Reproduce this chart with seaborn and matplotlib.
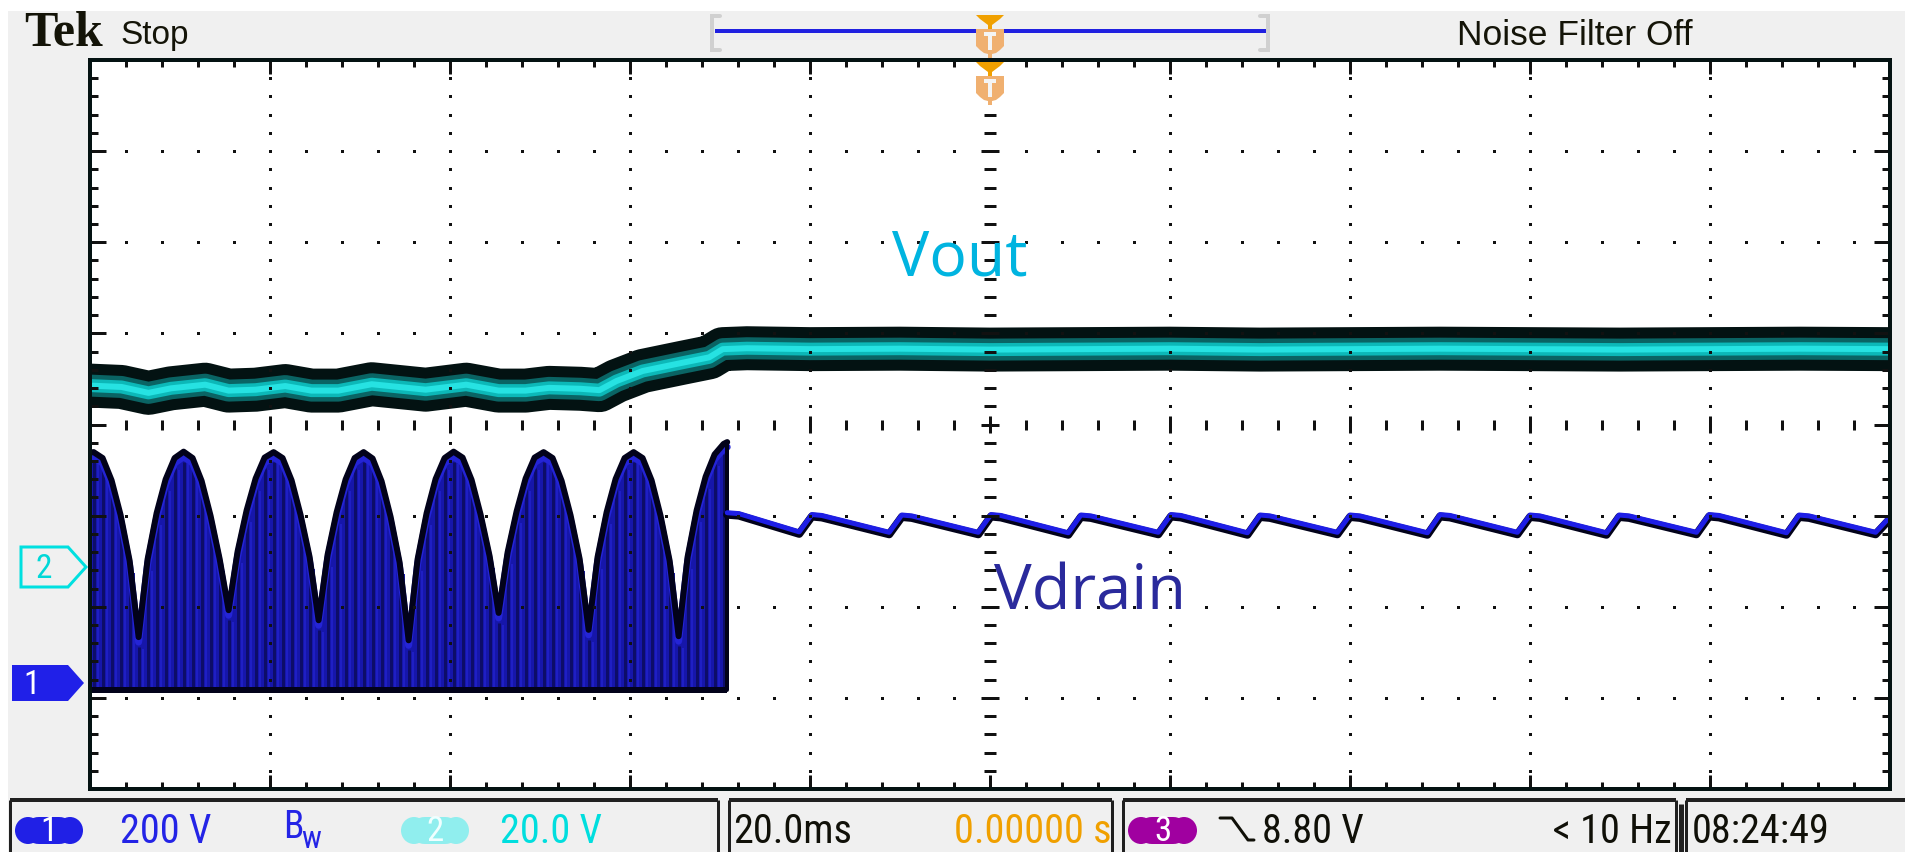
import numpy as np
import pandas as pd
import matplotlib
matplotlib.use("Agg")
import matplotlib.pyplot as plt
import matplotlib.patches as mpatches
import matplotlib.transforms as mtransforms
from matplotlib import font_manager
import seaborn as sns

# ---------------- acquisition settings ----------------
CH1_VOLTS_PER_DIV = 200.0     # Vdrain
CH2_VOLTS_PER_DIV = 20.0      # Vout
CH1_GROUND_DIV = -2.853       # ground marker positions (divisions from centre)
CH2_GROUND_DIV = -1.573
TIME_SPAN_MS = (-100.0, 100.0)

# ---------------- Vdrain: peak envelope while switching (ms, V) ----------------
vdrain_env_t = [
    -100.0, -99.6, -98.6, -97.6, -96.6, -95.6, -94.6,
    -93.6, -92.6, -91.6, -90.6, -89.6, -88.6, -87.6, -86.6, -85.6, -84.6,
    -83.6, -82.6, -81.6, -80.6, -79.6, -78.6, -77.6, -76.6, -75.6, -74.6,
    -73.6, -72.6, -71.6, -70.6, -69.6, -68.6, -67.6, -66.6, -65.6, -64.6,
    -63.6, -62.6, -61.6, -60.6, -59.6, -58.6, -57.6, -56.6, -55.6, -54.6,
    -53.6, -52.6, -51.6, -50.6, -49.6, -48.6, -47.6, -46.6, -45.6, -44.6,
    -43.6, -42.6, -41.6, -40.6, -39.6, -38.6, -37.6, -36.6, -35.6, -34.6,
    -33.6, -32.6, -31.6, -30.6, -29.6, -29.2,
]
vdrain_env_v = [
    509, 510, 497, 448, 372, 272, 104,
    275, 376, 450, 497, 511, 497, 447, 370, 276, 163,
    292, 382, 452, 498, 510, 497, 448, 372, 280, 141,
    285, 378, 450, 497, 510, 496, 446, 368, 268, 97,
    275, 376, 451, 497, 511, 498, 449, 373, 282, 157,
    290, 380, 452, 498, 510, 497, 447, 371, 276, 120,
    280, 378, 451, 497, 510, 497, 448, 370, 272, 106,
    280, 382, 456, 505, 528, 532,
]
vdrain_floor_v = -12

# ---------------- Vdrain after switching stops: bulk ripple (ms, V) ----------------
bulk_start_t = [-29.2, -27.9]
bulk_start_v = [377, 375]
bulk_trough_t = [-21.2, -11.2, -1.3, 8.7, 18.7, 28.6, 38.6, 48.6, 58.6, 68.5, 78.5, 88.5, 98.4]
bulk_trough_v = [335, 334, 334, 333, 334, 333, 334, 333, 334, 333, 334, 333, 334]
bulk_peak_t = [-19.8, -9.8, 0.1, 10.1, 20.1, 30.0, 40.0, 50.0, 60.0, 69.9, 79.9, 89.9]
bulk_peak_v = [373, 372, 373, 372, 373, 372, 372, 373, 372, 372, 373, 372]
bulk_shoulder_t = [-18.7, -8.7, 1.2, 11.2, 21.2, 31.1, 41.1, 51.1, 61.1, 71.0, 81.0, 91.0]
bulk_shoulder_v = [371, 370, 371, 370, 371, 370, 370, 371, 370, 370, 371, 370]
bulk_end_t = [100.0]
bulk_end_v = [368]

# ---------------- Vout (ms, V) ----------------
vout_t = [-100.0, -96.5, -93.5, -91.0, -87.2, -84.6, -81.6, -78.3, -75.4, -72.4,
          -68.7, -65.7, -62.7, -58.2, -54.6, -51.6, -49.0, -45.5, -43.4, -41.5,
          -38.6, -34.2, -31.2, -29.7, -27.0, -20.0, -10.0, 0.0, 10.0, 20.0,
          30.0, 40.0, 50.0, 60.0, 70.0, 80.0, 90.0, 100.0]
vout_v = [40.0, 39.7, 38.4, 39.4, 40.2, 38.9, 39.1, 39.9, 38.9, 38.9,
          40.3, 39.7, 39.1, 40.2, 38.9, 38.9, 39.5, 39.3, 39.0, 41.0,
          43.2, 45.0, 46.2, 48.0, 48.2, 48.0, 48.1, 47.9, 48.0, 48.1,
          47.9, 48.0, 48.1, 48.0, 47.9, 48.0, 48.1, 48.0]

# ---------------- readouts ----------------
ch1_scale_text = "200 V"
ch2_scale_text = "20.0 V"
timebase_text = "20.0ms"
trigger_pos_text = "0.00000 s"
trigger_level_text = "8.80 V"
freq_text = "< 10 Hz"
clock_text = "08:24:49"

# ---------------- style ----------------
sns.set_theme(style="white")
available = {f.name for f in font_manager.fontManager.ttflist}


def pick(*names):
    for n in names:
        if n in available:
            return n
    return "DejaVu Sans"


NARROW = pick("Liberation Sans Narrow", "DejaVu Sans Condensed", "Roboto Condensed", "Liberation Sans")
SANS = pick("Liberation Sans", "DejaVu Sans")
SERIF = pick("Liberation Serif", "DejaVu Serif")
LABEL = pick("Open Sans", "Noto Sans", "DejaVu Sans")
plt.rcParams["font.family"] = [SANS, "DejaVu Sans"]

W, H = 1905, 853
PX = 0.72  # points per pixel at 100 dpi

fig = plt.figure(figsize=(W / 100, H / 100), dpi=100)
fig.patch.set_facecolor("#f0f0f0")

# graticule box (frame line centres, in pixels)
L, R, T, B = 90, 1890, 61, 790
ax = fig.add_axes([L / W, 1 - B / H, (R - L) / W, (B - T) / H], zorder=1)
ax.set_facecolor("white")
ax.set_xlim(*TIME_SPAN_MS)
ax.set_ylim(-4, 4)
ax.set_xticks([])
ax.set_yticks([])
for s in ax.spines.values():
    s.set_visible(True)
    s.set_color("#041212")
    s.set_linewidth(4 * PX)
    s.set_zorder(10)

ms_per_px = 200.0 / (R - L)
div_per_px = 8.0 / (B - T)


def ch1(v):
    return np.asarray(v, dtype=float) / CH1_VOLTS_PER_DIV + CH1_GROUND_DIV


def ch2(v):
    return np.asarray(v, dtype=float) / CH2_VOLTS_PER_DIV + CH2_GROUND_DIV


def shifted(dx, dy):
    return mtransforms.offset_copy(ax.transData, fig=fig, x=dx, y=dy, units="dots")


# ---- Vout trace (noise band with bright centre) ----
vout_df = pd.DataFrame({"t": vout_t, "y": ch2(vout_v)})
for lw_px, col in [(44, "#031212"), (22, "#0a6464"), (13, "#0cb8b8"), (6, "#26e2e2")]:
    sns.lineplot(data=vout_df, x="t", y="y", ax=ax, color=col, linewidth=lw_px * PX,
                 estimator=None, sort=False, legend=False, solid_capstyle="butt",
                 solid_joinstyle="round", zorder=3)

# ---- Vdrain while switching: filled envelope ----
env_t = np.asarray(vdrain_env_t)
env_y = ch1(vdrain_env_v)
floor_y = float(ch1(vdrain_floor_v))
ax.fill_between(env_t, floor_y, env_y, color="#1616aa", lw=0, zorder=4)
# darker switching streaks at each envelope sample
ax.vlines(env_t[1:-1], floor_y, env_y[1:-1] - 10 * div_per_px, color="#0d0d68",
          lw=3 * PX, zorder=4.2)
ax.vlines(env_t[1:-1], floor_y, env_y[1:-1] - 12 * div_per_px, color="#1f1fc4",
          lw=2 * PX, zorder=4.2, transform=shifted(4, 0))
env_df = pd.DataFrame({"t": env_t, "y": env_y})
sns.lineplot(data=env_df, x="t", y="y", ax=ax, color="#2424d6", linewidth=7 * PX,
             estimator=None, sort=False, legend=False, zorder=4.5, transform=shifted(0, -5))
sns.lineplot(data=env_df, x="t", y="y", ax=ax, color="#02021a", linewidth=6 * PX,
             estimator=None, sort=False, legend=False, zorder=5)
ax.plot([env_t[0], env_t[-1]], [floor_y, floor_y], color="#02021a", lw=6 * PX, zorder=5,
        solid_capstyle="butt")
ax.plot([env_t[-1], env_t[-1]], [floor_y, env_y[-1]], color="#02021a", lw=4 * PX, zorder=5)

# ---- Vdrain after switching stops ----
bulk_t = np.concatenate([bulk_start_t, bulk_trough_t, bulk_peak_t, bulk_shoulder_t, bulk_end_t])
bulk_v = np.concatenate([bulk_start_v, bulk_trough_v, bulk_peak_v, bulk_shoulder_v, bulk_end_v])
order = np.argsort(bulk_t)
bulk_df = pd.DataFrame({"t": bulk_t[order], "y": ch1(bulk_v[order])})
sns.lineplot(data=bulk_df, x="t", y="y", ax=ax, color="#02021a", linewidth=8 * PX,
             estimator=None, sort=False, legend=False, zorder=5, transform=shifted(0, -2))
sns.lineplot(data=bulk_df, x="t", y="y", ax=ax, color="#1e1ee6", linewidth=5 * PX,
             estimator=None, sort=False, legend=False, zorder=6)

# ---- graticule ----
GRID = "#111111"
major_x = np.arange(-80, 81, 20)
major_y = np.arange(-3, 4, 1)
minor_x = np.arange(-96, 97, 4)
minor_y = np.round(np.arange(-3.8, 3.81, 0.2), 2)
dot = dict(ls="none", marker="s", ms=3 * PX, mew=0, color=GRID, zorder=8, clip_on=False)
for mx in major_x:
    if mx != 0:
        ax.plot(np.full(minor_y.shape, mx), minor_y, **dot)
for my in major_y:
    if my != 0:
        ax.plot(minor_x, np.full(minor_x.shape, my), **dot)

is_major_x = (minor_x % 20 == 0)
is_major_y = np.isclose(minor_y, np.round(minor_y))
tick_kw = dict(color=GRID, lw=3 * PX, zorder=8)
# centre cross-hair ticks
hx = np.where(is_major_x, 8.5, 5) * div_per_px
ax.vlines(minor_x, -hx, hx, **tick_kw)
hy = np.where(is_major_y, 9, 6) * ms_per_px
ax.hlines(minor_y, -hy, hy, **tick_kw)
# frame ticks
lx = np.where(is_major_y, 16, 8) * ms_per_px
ax.hlines(minor_y, -100, -100 + lx, **tick_kw)
ax.hlines(minor_y, 100 - lx, 100, **tick_kw)
ly = np.where(is_major_x, 14, 7) * div_per_px
ax.vlines(minor_x, 4 - ly, 4, **tick_kw)
ax.vlines(minor_x, -4, -4 + ly, **tick_kw)

# trace labels
ax.text(-10.9, ch2(64.4), "Vout", color="#00b4e0", fontsize=45, family=LABEL,
        va="baseline", ha="left", zorder=9)
ax.text(0.4, ch1(166), "Vdrain", color="#2a2a9c", fontsize=45.5, family=LABEL,
        va="baseline", ha="left", zorder=9)

# ---------------- screen furniture (pixel coordinates) ----------------
ov = fig.add_axes([0, 0, 1, 1], zorder=2)
ov.set_xlim(0, W)
ov.set_ylim(H, 0)
ov.axis("off")
ov.patch.set_alpha(0)

ov.add_patch(mpatches.Rectangle((0, 0), W, 12, color="white", lw=0, zorder=0))
ov.add_patch(mpatches.Rectangle((0, 0), 8, H, color="white", lw=0, zorder=0))

# header
ov.text(24, 46, "Tek", family=SERIF, fontweight="bold", fontsize=36, color="#141408",
        va="baseline", ha="left")
ov.text(120, 44, "Stop", family=SANS, fontsize=24, color="#141408", va="baseline", ha="left")
ov.text(1457, 45, "Noise Filter Off", family=SANS, fontsize=25.5, color="#141408",
        va="baseline", ha="left")

# record-position bar
ov.plot([720, 712, 712, 720], [17, 17, 51, 51], color="#d0d0d0", lw=4 * PX,
        solid_joinstyle="miter")
ov.plot([1260, 1268, 1268, 1260], [17, 17, 51, 51], color="#d0d0d0", lw=4 * PX,
        solid_joinstyle="miter")
ov.plot([715, 1266], [32, 32], color="#2020e0", lw=4 * PX, solid_capstyle="butt")


def trigger_mark(y0):
    cx = 990
    ov.add_patch(mpatches.Polygon([(cx - 14, y0), (cx + 14, y0), (cx + 10, y0 + 4),
                                   (cx + 6, y0 + 7), (cx + 2, y0 + 10), (cx + 2, y0 + 14),
                                   (cx - 2, y0 + 14), (cx - 2, y0 + 10), (cx - 6, y0 + 7),
                                   (cx - 10, y0 + 4)],
                                  closed=True, color="#f0a000", lw=0, zorder=5))
    ov.add_patch(mpatches.Polygon([(cx - 14, y0 + 14), (cx + 14, y0 + 14), (cx + 14, y0 + 31),
                                   (cx + 10, y0 + 35), (cx + 6, y0 + 38), (cx + 2, y0 + 39),
                                   (cx + 2, y0 + 43), (cx - 2, y0 + 43), (cx - 2, y0 + 39),
                                   (cx - 6, y0 + 38), (cx - 10, y0 + 35), (cx - 14, y0 + 31)],
                                  closed=True, color="#f0b070", lw=0, zorder=5))
    ov.plot([cx - 6, cx + 6], [y0 + 19, y0 + 19], color="#f4f4f4", lw=4 * PX,
            solid_capstyle="butt", zorder=6)
    ov.plot([cx, cx], [y0 + 19, y0 + 35], color="#f4f4f4", lw=4 * PX,
            solid_capstyle="butt", zorder=6)


trigger_mark(16)
trigger_mark(63)

# channel ground markers
ov.add_patch(mpatches.Polygon([(21, 548), (68, 548), (86, 568), (68, 588), (21, 588)],
                              closed=True, fill=False, edgecolor="#00e0e0", lw=3 * PX, zorder=5))
ov.text(44, 569, "2", family=NARROW, fontsize=24, color="#00d8d8", ha="center",
        va="center")
ov.add_patch(mpatches.Polygon([(12, 666), (68, 666), (84, 684), (68, 702), (12, 702)],
                              closed=True, color="#2020e8", lw=0, zorder=5))
ov.text(32, 685, "1", family=NARROW, fontsize=24, color="white", ha="center",
        va="center", zorder=6)

# status bar frame
SB = "#202020"
for x0, x1 in [(10, 718), (729, 1112), (1123, 1676), (1686, W + 5)]:
    ov.plot([x0, x1], [801, 801], color=SB, lw=4 * PX, solid_capstyle="butt")
for xv in [10, 718, 729, 1112, 1123, 1676, 1686]:
    ov.plot([xv, xv], [801, H], color=SB, lw=3 * PX, solid_capstyle="butt")
ov.plot([1681, 1681], [805, H], color=SB, lw=5 * PX, solid_capstyle="butt")


def badge(x0, x1, color, label, txtcolor):
    ov.add_patch(mpatches.FancyBboxPatch((x0 + 12, 818), (x1 - x0) - 24, 27,
                                         boxstyle="round,pad=0,rounding_size=12",
                                         mutation_aspect=1, color=color, lw=0, zorder=5))
    ov.add_patch(mpatches.Ellipse((x0 + 13, 831.5), 26, 27, color=color, lw=0, zorder=5))
    ov.add_patch(mpatches.Ellipse((x1 - 13, 831.5), 26, 27, color=color, lw=0, zorder=5))
    ov.text((x0 + x1) / 2, 832, label, family=NARROW, fontsize=25, color=txtcolor,
            ha="center", va="center", zorder=6)


badge(15, 83, "#2020e6", "1", "white")
badge(401, 469, "#90eeee", "2", "#f0ffff")
badge(1128, 1197, "#a000a0", "3", "white")

st = dict(family=NARROW, fontsize=29, va="baseline", ha="left")
ov.text(120, 843, ch1_scale_text, color="#2424e6", **st)
ov.text(283, 838, "B", color="#2424e6", family=NARROW, fontsize=27, va="baseline")
ov.text(301, 848, "w", color="#2424e6", family=NARROW, fontsize=22, va="baseline")
ov.text(500, 843, ch2_scale_text, color="#00dede", **st)
ov.text(733, 843, timebase_text, color="#101008", **st)
ov.text(954, 843, trigger_pos_text, color="#f0a000", **st)
ov.plot([1220, 1232, 1248, 1254], [819, 819, 841, 841], color="#101008", lw=3 * PX)
ov.text(1262, 843, trigger_level_text, color="#101008", **st)
ov.text(1553, 843, freq_text, color="#101008", **st)
ov.text(1692, 843, clock_text, color="#101008", **st)

fig.savefig("out.png", dpi=100, facecolor=fig.get_facecolor())
